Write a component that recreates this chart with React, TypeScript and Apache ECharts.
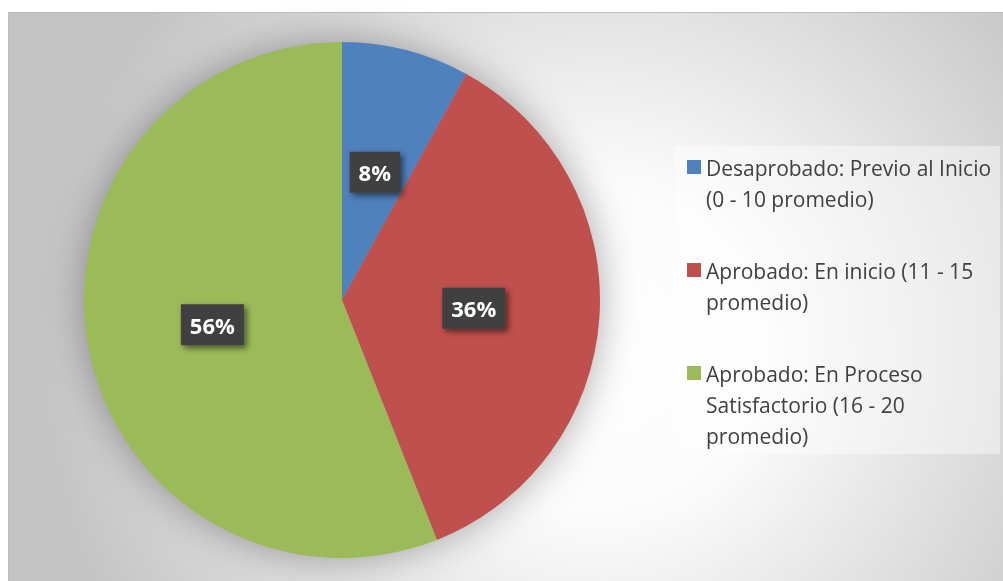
import React, { useEffect, useRef } from "react";
import * as echarts from "echarts";

const categories = [
  "Desaprobado: Previo al Inicio (0 - 10 promedio)",
  "Aprobado: En inicio (11 - 15 promedio)",
  "Aprobado: En Proceso Satisfactorio (16 - 20 promedio)",
];
const legendLines = [
  "Desaprobado: Previo al Inicio\n(0 - 10 promedio)\n ",
  "Aprobado: En inicio (11 - 15\npromedio)\n ",
  "Aprobado: En Proceso\nSatisfactorio (16 - 20\npromedio)",
];
const values = [8, 36, 56];
const colors = ["#4F81BD", "#C0504D", "#9BBB59"];

const CX = 342;
const CY = 300;
const R = 258;
const LINE_H = 31;
const ITEM_H = 93;

export default function App() {
  const ref = useRef<HTMLDivElement>(null);
  useEffect(() => {
    if (!ref.current) return;
    const chart = echarts.init(ref.current, null, { renderer: "svg" });
    const font = "'Open Sans', 'Noto Sans', sans-serif";
    chart.setOption({
      animation: false,
      graphic: [
        {
          type: "rect",
          z: 0,
          shape: { x: 8.5, y: 12.5, width: 1010, height: 590 },
          style: {
            fill: new echarts.graphic.RadialGradient(600, 350, 560, [
              { offset: 0, color: "#ffffff" },
              { offset: 0.3, color: "#fbfbfb" },
              { offset: 1, color: "#c4c4c4" },
            ], true),
            stroke: "#bdbdbd",
            lineWidth: 1,
          },
        },
        {
          type: "circle",
          z: 1,
          shape: { cx: CX, cy: CY, r: R - 1 },
          style: {
            fill: "#9a9a9a",
            shadowBlur: 40,
            shadowColor: "rgba(0,0,0,0.35)",
          },
        },
        {
          type: "rect",
          z: 1,
          shape: { x: 675, y: 146, width: 325, height: 308 },
          style: { fill: "rgba(255,255,255,0.42)" },
        },
      ],
      legend: {
        orient: "vertical",
        left: 687,
        top: 152,
        padding: 0,
        itemGap: 10,
        itemWidth: 14,
        itemHeight: ITEM_H,
        icon: "path://M0,8L14,8L14,22L0,22Z M0,0L0.05,0L0.05,0.05Z M0,93L0.05,93L0.05,92.95Z",
        itemStyle: { borderWidth: 0 },
        selectedMode: false,
        formatter: (name: string) => legendLines[categories.indexOf(name)],
        textStyle: {
          fontFamily: font,
          fontSize: 21,
          color: "#404040",
          lineHeight: LINE_H,
        },
        data: categories,
      },
      series: [
        {
          type: "pie",
          z: 2,
          center: [CX, CY],
          radius: R,
          startAngle: 90,
          clockwise: true,
          silent: true,
          itemStyle: { borderWidth: 0 },
          labelLine: { show: false },
          label: {
            show: true,
            position: "inside",
            formatter: "{d}%",
            fontFamily: font,
            fontSize: 22,
            fontWeight: "bold",
            color: "#ffffff",
            lineHeight: 23,
            backgroundColor: "#404040",
            padding: [9, 9, 9, 9],
            shadowColor: "rgba(0,0,0,0.55)",
            shadowBlur: 6,
            shadowOffsetX: 3,
            shadowOffsetY: 3,
          },
          data: categories.map((c, i) => ({
            name: c,
            value: values[i],
            itemStyle: { color: colors[i] },
          })),
        },
      ],
    });
    return () => chart.dispose();
  }, []);
  return (
    <div
      ref={ref}
      style={{ position: "fixed", left: 0, top: 0, width: 1003, height: 581 }}
    />
  );
}
